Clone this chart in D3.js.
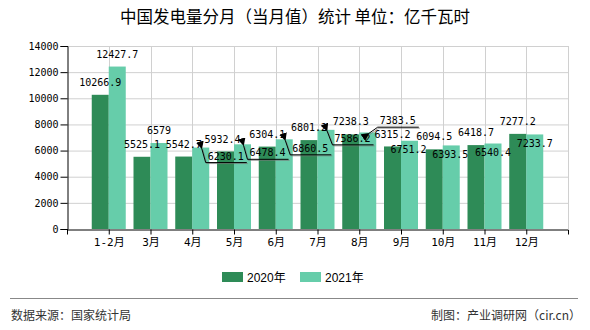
<!DOCTYPE html>
<html>
<head>
<meta charset="utf-8">
<script src="https://cdn.jsdelivr.net/npm/d3@7"></script>
<style>
  html, body { margin: 0; padding: 0; background: #fff; }
  svg { display: block; }
</style>
</head>
<body>
<script>
const categories = ["1-2月", "3月", "4月", "5月", "6月", "7月", "8月", "9月", "10月", "11月", "12月"];
const series2020 = [10266.9, 5525.1, 5542.7, 5932.4, 6304.1, 6801.2, 7238.3, 6315.2, 6094.5, 6418.7, 7277.2];
const series2021 = [12427.7, 6579, 6230.1, 6478.4, 6860.5, 7586.2, 7383.5, 6751.2, 6393.5, 6540.4, 7233.7];
const yTicks = [0, 2000, 4000, 6000, 8000, 10000, 12000, 14000];
const seriesNames = ["2020年", "2021年"];

// label placement tweaks (style only)
const shift2020 = [[0,0],[0,0],[0,0],[-3,0],[0,0],[0,0],[0,0],[0,0],[0,0],[0,0],[0,0]];
const shift2021 = [[0,0],[0,0],[25,21],[25,21],[26,21.5],[26.5,21],[30,0.7],[-1,21],[-1,21],[0,21],[0,21]];
const leader2021 = [false,false,true,true,true,true,true,false,false,false,false];

const W = 590, H = 330;
const colors = ["#2e8b57", "#66cdaa"];
const numFont = "'DejaVu Sans Mono', monospace";
const cjkFont = "'Noto Sans CJK SC', sans-serif";

const svg = d3.select("body").append("svg").attr("width", W).attr("height", H);

const x = d3.scalePoint().domain(categories).range([67, 568]).padding(1);
const y = d3.scaleLinear().domain([0, 14000]).range([229, 46]);
const bw = 17;

// title
svg.append("text").attr("x", 295).attr("y", 23).attr("text-anchor", "middle")
  .style("font-family", cjkFont).style("font-size", "16.5px").attr("fill", "#000")
  .text("中国发电量分月（当月值）统计 单位：亿千瓦时");

// grid
const grid = svg.append("g").attr("stroke", "#d0d0d0").attr("stroke-width", 1);
grid.selectAll("line.h").data(yTicks.filter(d => d > 0)).join("line")
  .attr("x1", 67).attr("x2", 568).attr("y1", d => y(d) + 0.5).attr("y2", d => y(d) + 0.5);
grid.selectAll("line.v").data(categories).join("line")
  .attr("x1", d => Math.round(x(d)) + 0.5).attr("x2", d => Math.round(x(d)) + 0.5)
  .attr("y1", y(14000)).attr("y2", y(0));
grid.append("line").attr("x1", 568.5).attr("x2", 568.5).attr("y1", y(14000)).attr("y2", y(0));

// bars
const seriesAll = [series2020, series2021];
seriesAll.forEach((s, si) => {
  svg.append("g").selectAll("rect").data(s).join("rect")
    .attr("x", (d, i) => x(categories[i]) - bw + si * bw)
    .attr("width", bw)
    .attr("y", d => y(d))
    .attr("height", d => y(0) - y(d))
    .attr("fill", colors[si]);
});

// axes
const yAxis = svg.append("g").attr("transform", "translate(67.5,0)")
  .call(d3.axisLeft(y).tickValues(yTicks).tickSize(7).tickPadding(2).tickFormat(d3.format("d")));
yAxis.selectAll("text").style("font-family", numFont).style("font-size", "10px").attr("fill", "#000");
yAxis.selectAll("line,path").attr("stroke", "#000");

const xAxis = svg.append("g").attr("transform", "translate(0,229.5)")
  .call(d3.axisBottom(x).tickSize(5).tickSizeOuter(5).tickPadding(4));
xAxis.selectAll("text").style("font-family", numFont + ", " + cjkFont).style("font-size", "11px").attr("fill", "#000");
xAxis.selectAll("line,path").attr("stroke", "#000");

// arrow marker
svg.append("defs").append("marker").attr("id", "arr")
  .attr("viewBox", "0 0 10 10").attr("refX", 1).attr("refY", 5)
  .attr("markerWidth", 8).attr("markerHeight", 8).attr("orient", "auto-start-reverse")
  .append("path").attr("d", "M0,5 L10,0 L10,10 Z").attr("fill", "#000");

// value labels
const charW = 6.02;
function drawLabels(s, si, shifts, leaders) {
  const g = svg.append("g");
  s.forEach((v, i) => {
    const cx = x(categories[i]) - bw / 2 + si * bw;
    const top = y(v);
    const lx = cx + shifts[i][0];
    const ly = top - 12.5 + shifts[i][1];
    const txt = String(v);
    const wTxt = txt.length * charW;
    if (leaders && leaders[i]) {
      const uy = ly + 6.5;
      const left = lx - wTxt / 2 - 2;
      const right = lx + wTxt / 2 + 3;
      const p = `M${cx + 1},${top + 1} L${left},${uy} L${right},${uy}`;
      g.append("path").attr("d", `M${cx + 2},${top + 2} L${left + 1},${uy + 1} L${right + 1},${uy + 1}`)
        .attr("fill", "none").attr("stroke", "#777").attr("stroke-width", 1).attr("opacity", 0.7);
      g.append("path").attr("d", p).attr("fill", "none").attr("stroke", "#000").attr("stroke-width", 1)
        .attr("marker-start", "url(#arr)");
    }
    g.append("text").attr("x", lx).attr("y", ly + 3.6).attr("text-anchor", "middle")
      .style("font-family", numFont).style("font-size", "10px").attr("fill", "#000")
      .text(txt);
  });
}
drawLabels(series2020, 0, shift2020, null);
drawLabels(series2021, 1, shift2021, leader2021);

// legend
const legendX = [222, 300];
seriesNames.forEach((n, i) => {
  svg.append("rect").attr("x", legendX[i]).attr("y", 272).attr("width", 21).attr("height", 10).attr("fill", colors[i]);
  svg.append("text").attr("x", legendX[i] + 25).attr("y", 281.5)
    .style("font-family", "'Liberation Sans', " + cjkFont).style("font-size", "12px").attr("fill", "#000")
    .text(n);
});

// footer
svg.append("line").attr("x1", 10).attr("x2", 578).attr("y1", 298.5).attr("y2", 298.5)
  .attr("stroke", "#888").attr("stroke-width", 1);
svg.append("text").attr("x", 11).attr("y", 320)
  .style("font-family", cjkFont).style("font-size", "12px").attr("fill", "#333")
  .text("数据来源：国家统计局");
svg.append("text").attr("x", 581).attr("y", 320).attr("text-anchor", "end")
  .style("font-family", cjkFont).style("font-size", "12px").attr("fill", "#333")
  .text("制图：产业调研网（cir.cn）");
</script>
</body>
</html>
